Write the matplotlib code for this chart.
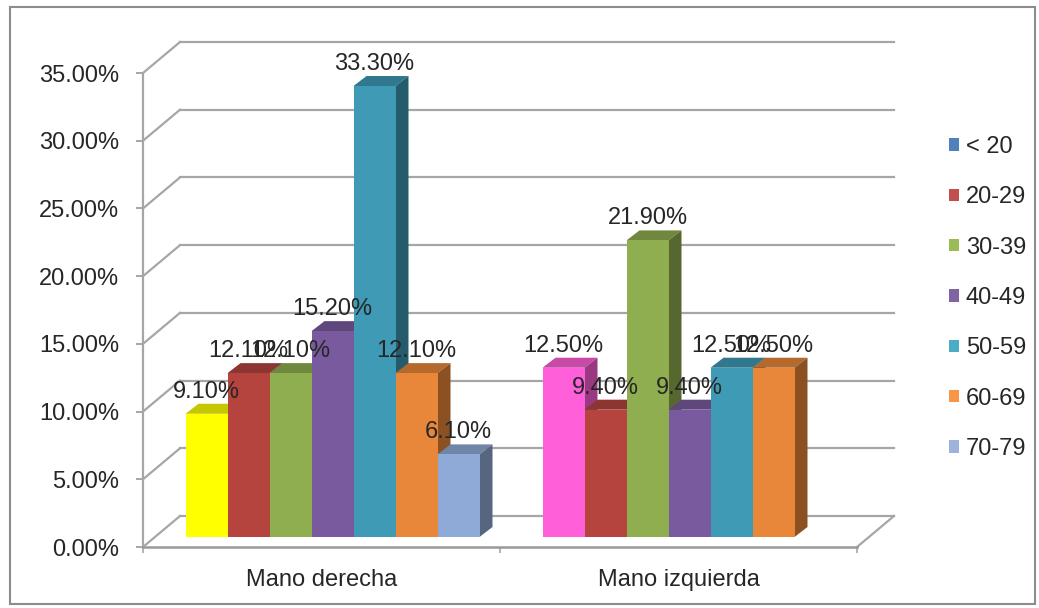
import numpy as np
import matplotlib.pyplot as plt
from matplotlib.patches import Polygon, Patch, Rectangle
from matplotlib.colors import to_rgb

plt.rcParams['font.family'] = ['Liberation Sans', 'DejaVu Sans']

# data
categorias = ["Mano derecha", "Mano izquierda"]
series = ["< 20", "20-29", "30-39", "40-49", "50-59", "60-69", "70-79"]
valores = [
    [9.10, 12.50],    # < 20
    [12.10, 9.40],    # 20-29
    [12.10, 21.90],   # 30-39
    [15.20, 9.40],    # 40-49
    [33.30, 12.50],   # 50-59
    [12.10, 12.50],   # 60-69
    [6.10, np.nan],   # 70-79
]
colores_leyenda = ["#4F81BD", "#C0504D", "#9BBB59", "#8064A2", "#4BACC6", "#F79646", "#9DB3DB"]
colores_barras = [
    ["#FFFF00", "#FF5FD8"],
    ["#B5443F", "#B5443F"],
    ["#8FAE4F", "#8FAE4F"],
    ["#7A5A9E", "#7A5A9E"],
    ["#3E9AB5", "#3E9AB5"],
    ["#E8873A", "#E8873A"],
    ["#8FAAD6", "#8FAAD6"],
]
yticks = [0, 5, 10, 15, 20, 25, 30, 35]

FS = 17
W_PX, H_PX = 1039, 608
fig = plt.figure(figsize=(W_PX / 100, H_PX / 100), dpi=100)
ax = fig.add_axes([143 / W_PX, 61 / H_PX, 714 / W_PX, 474 / H_PX])
ax.set_xlim(0, 2)
ax.set_ylim(0, 35)

# 3d depth (in data units)
px_x = 2 / 714
px_y = 35 / 474
DX, DY = 37 * px_x, 31 * px_y        # wall depth
FX, FY = 11 * px_x, 10 * px_y        # bar front offset
BDX, BDY = 13 * px_x, 10 * px_y      # bar depth
BW = 42 * px_x                       # bar width

grid_c = "#A6A6A6"
for v in yticks:
    ax.plot([DX, 2 + DX], [v + DY, v + DY], color=grid_c, lw=1.6, clip_on=False, zorder=1)
    ax.plot([0, DX], [v, v + DY], color=grid_c, lw=1.6, clip_on=False, zorder=1)
ax.plot([2, 2 + DX], [0, DY], color=grid_c, lw=1.6, clip_on=False, zorder=1)


def darker(c, f):
    r, g, b = to_rgb(c)
    return (r * f, g * f, b * f)


n = len(series)
for i, (vals, cols) in enumerate(zip(valores, colores_barras)):
    x_c = np.arange(len(categorias)) + 0.5 + FX + (i - (n - 1) / 2) * BW
    z = 3 + i * 0.1
    ok = ~np.isnan(vals)
    xs = x_c[ok]
    vs = np.array(vals)[ok]
    cs = [c for c, k in zip(cols, ok) if k]
    ax.bar(xs, vs, width=BW, bottom=FY, color=cs, zorder=z + 0.05, linewidth=0)
    for x, v, c in zip(xs, vs, cs):
        xl, xr, top = x - BW / 2, x + BW / 2, v + FY
        ax.add_patch(Polygon([(xl, top), (xr, top), (xr + BDX, top + BDY), (xl + BDX, top + BDY)],
                             closed=True, facecolor=darker(c, 0.78), lw=0, zorder=z))
        ax.add_patch(Polygon([(xr, FY), (xr, top), (xr + BDX, top + BDY), (xr + BDX, FY + BDY)],
                             closed=True, facecolor=darker(c, 0.6), lw=0, zorder=z))
        ax.annotate(f"{v:.2f}%", xy=(x, top), xytext=(0, 11), textcoords="offset pixels",
                    ha="center", va="bottom", fontsize=FS, color="#262626", zorder=10)

# axes styling
for s in ["top", "right"]:
    ax.spines[s].set_visible(False)
ax.spines["left"].set_color(grid_c)
ax.spines["bottom"].set_color("#999999")
ax.spines["left"].set_linewidth(1.6)
ax.spines["bottom"].set_linewidth(1.8)
ax.set_yticks(yticks)
ax.set_yticklabels([f"{v:.2f}%" for v in yticks])
ax.tick_params(axis="y", length=5, width=1.4, color=grid_c, pad=12, labelsize=FS, labelcolor="#262626")
ax.set_xticks([0.5, 1.5])
ax.set_xticklabels(categorias)
ax.tick_params(axis="x", length=0, pad=16, labelsize=FS, labelcolor="#262626")
ax.set_xticks([0, 1, 2], minor=True)
ax.tick_params(axis="x", which="minor", length=4, width=1.2, color=grid_c)
ax.patch.set_visible(False)

handles = [Patch(facecolor=c, edgecolor="none") for c in colores_leyenda]
fig.legend(handles, series, loc="upper left", bbox_to_anchor=(949 / W_PX, 1 - 136 / H_PX),
           frameon=False, fontsize=FS, handlelength=0.42, handleheight=0.42,
           handletextpad=0.3, labelspacing=1.2, labelcolor="#262626", borderaxespad=0, borderpad=0)

fig.patches.append(Rectangle((10 / W_PX, 4 / H_PX), 1025 / W_PX, 597 / H_PX, transform=fig.transFigure,
                             fill=False, edgecolor="#8C8C8C", lw=1.5))

fig.savefig("out.png", dpi=100)
